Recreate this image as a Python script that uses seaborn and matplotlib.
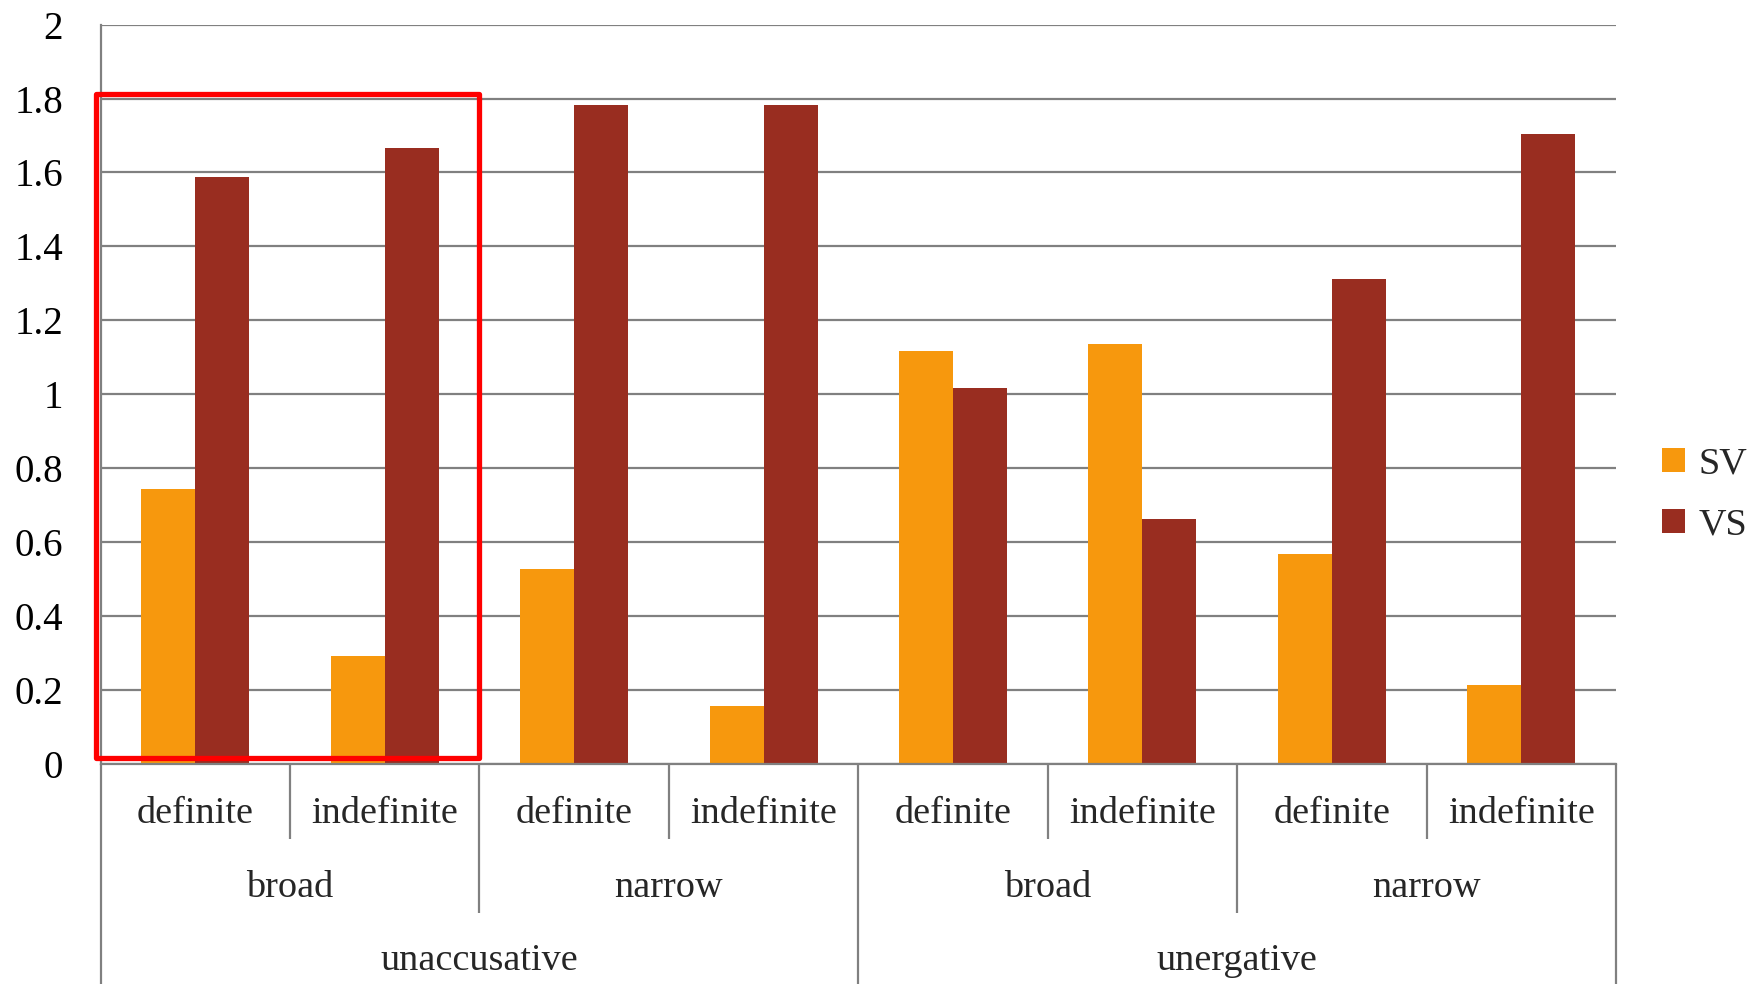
import matplotlib
matplotlib.use("Agg")
import matplotlib.pyplot as plt
import matplotlib.transforms as mtransforms
from matplotlib.patches import Rectangle
import seaborn as sns
import pandas as pd

# ---- data -------------------------------------------------------------
verb_types = ["unaccusative", "unergative"]
focus_types = ["broad", "narrow"]
definiteness = ["definite", "indefinite"]
series_names = ["SV", "VS"]

sv_values = [0.743, 0.292, 0.528, 0.156, 1.117, 1.135, 0.568, 0.214]
vs_values = [1.587, 1.666, 1.783, 1.783, 1.017, 0.664, 1.312, 1.704]

y_ticks = [0, 0.2, 0.4, 0.6, 0.8, 1, 1.2, 1.4, 1.6, 1.8, 2]
y_tick_labels = ["0", "0.2", "0.4", "0.6", "0.8", "1", "1.2", "1.4", "1.6", "1.8", "2"]

# ---- table --------------------------------------------------------------
cat_keys = [f"{v}|{f}|{d}" for v in verb_types for f in focus_types for d in definiteness]
rows = []
for key, sv, vs in zip(cat_keys, sv_values, vs_values):
    rows.append({"cat": key, "series": series_names[0], "value": sv})
    rows.append({"cat": key, "series": series_names[1], "value": vs})
df = pd.DataFrame(rows)

# ---- style ------------------------------------------------------------------
sns.set_style("white")
plt.rcParams["font.family"] = ["Liberation Serif", "DejaVu Serif"]
FS = 27.5
TICK_FS = 28
GRID = "#808080"
ORANGE = "#F7980D"
DARKRED = "#992D20"

fig = plt.figure(figsize=(17.54, 9.84), dpi=100)
ax = fig.add_axes([0.0574, 0.2236, 0.8639, 0.7514])

sns.barplot(data=df, x="cat", y="value", hue="series", order=cat_keys,
            hue_order=series_names, palette=[ORANGE, DARKRED], saturation=1,
            width=0.57, ax=ax, linewidth=0, errorbar=None)

ax.set_xlim(-0.5, 7.5)
ax.set_ylim(0, 2)
ax.set_yticks(y_ticks)
ax.set_yticklabels(y_tick_labels, fontsize=TICK_FS)
ax.set_xticks([])
ax.set_xlabel("")
ax.set_ylabel("")

ax.yaxis.grid(True, color=GRID, linewidth=1.6)
ax.set_axisbelow(True)
for side in ("top", "right"):
    ax.spines[side].set_visible(False)
for side in ("left", "bottom"):
    ax.spines[side].set_color(GRID)
    ax.spines[side].set_linewidth(1.6)
ax.tick_params(axis="y", length=8, width=1.6, color=GRID, pad=19, labelcolor="black")

# ---- hierarchical category axis ------------------------------------------------
trans = mtransforms.blended_transform_factory(ax.transData, ax.transAxes)
n = len(cat_keys)
lvl1_y, lvl2_y, lvl3_y = -0.0798, -0.180, -0.2786
sep1_end, sep2_end, sep3_end = -0.101, -0.201, -0.31

for i, key in enumerate(cat_keys):
    ax.text(i, lvl1_y, key.split("|")[2], transform=trans, ha="center",
            va="baseline", fontsize=FS, clip_on=False)
for j in range(len(verb_types) * len(focus_types)):
    name = focus_types[j % len(focus_types)]
    ax.text(2 * j + 0.5, lvl2_y, name, transform=trans, ha="center",
            va="baseline", fontsize=FS, clip_on=False)
for k, name in enumerate(verb_types):
    ax.text(4 * k + 1.5, lvl3_y, name, transform=trans, ha="center",
            va="baseline", fontsize=FS, clip_on=False)

for b in range(n + 1):
    x = b - 0.5
    if b % 4 == 0:
        end = sep3_end
    elif b % 2 == 0:
        end = sep2_end
    else:
        end = sep1_end
    ax.plot([x, x], [0, end], transform=trans, color=GRID, lw=1.6,
            clip_on=False, solid_capstyle="butt")

# ---- highlight box ------------------------------------------------------------
ax.add_patch(Rectangle((-0.525, 0.015), 2.022, 1.797, fill=False,
                       edgecolor="#FF0000", linewidth=3.8, clip_on=False,
                       joinstyle="round", zorder=10))

# ---- legend -------------------------------------------------------------------
handles, labels = ax.get_legend_handles_labels()
ax.legend(handles, labels, loc="center left", bbox_to_anchor=(0.9475, 0.4975),
          bbox_transform=fig.transFigure, frameon=False, fontsize=FS,
          handlelength=0.6, handleheight=0.6, handletextpad=0.35,
          labelspacing=0.7, borderpad=0, borderaxespad=0)

fig.savefig("out.png", dpi=100)
